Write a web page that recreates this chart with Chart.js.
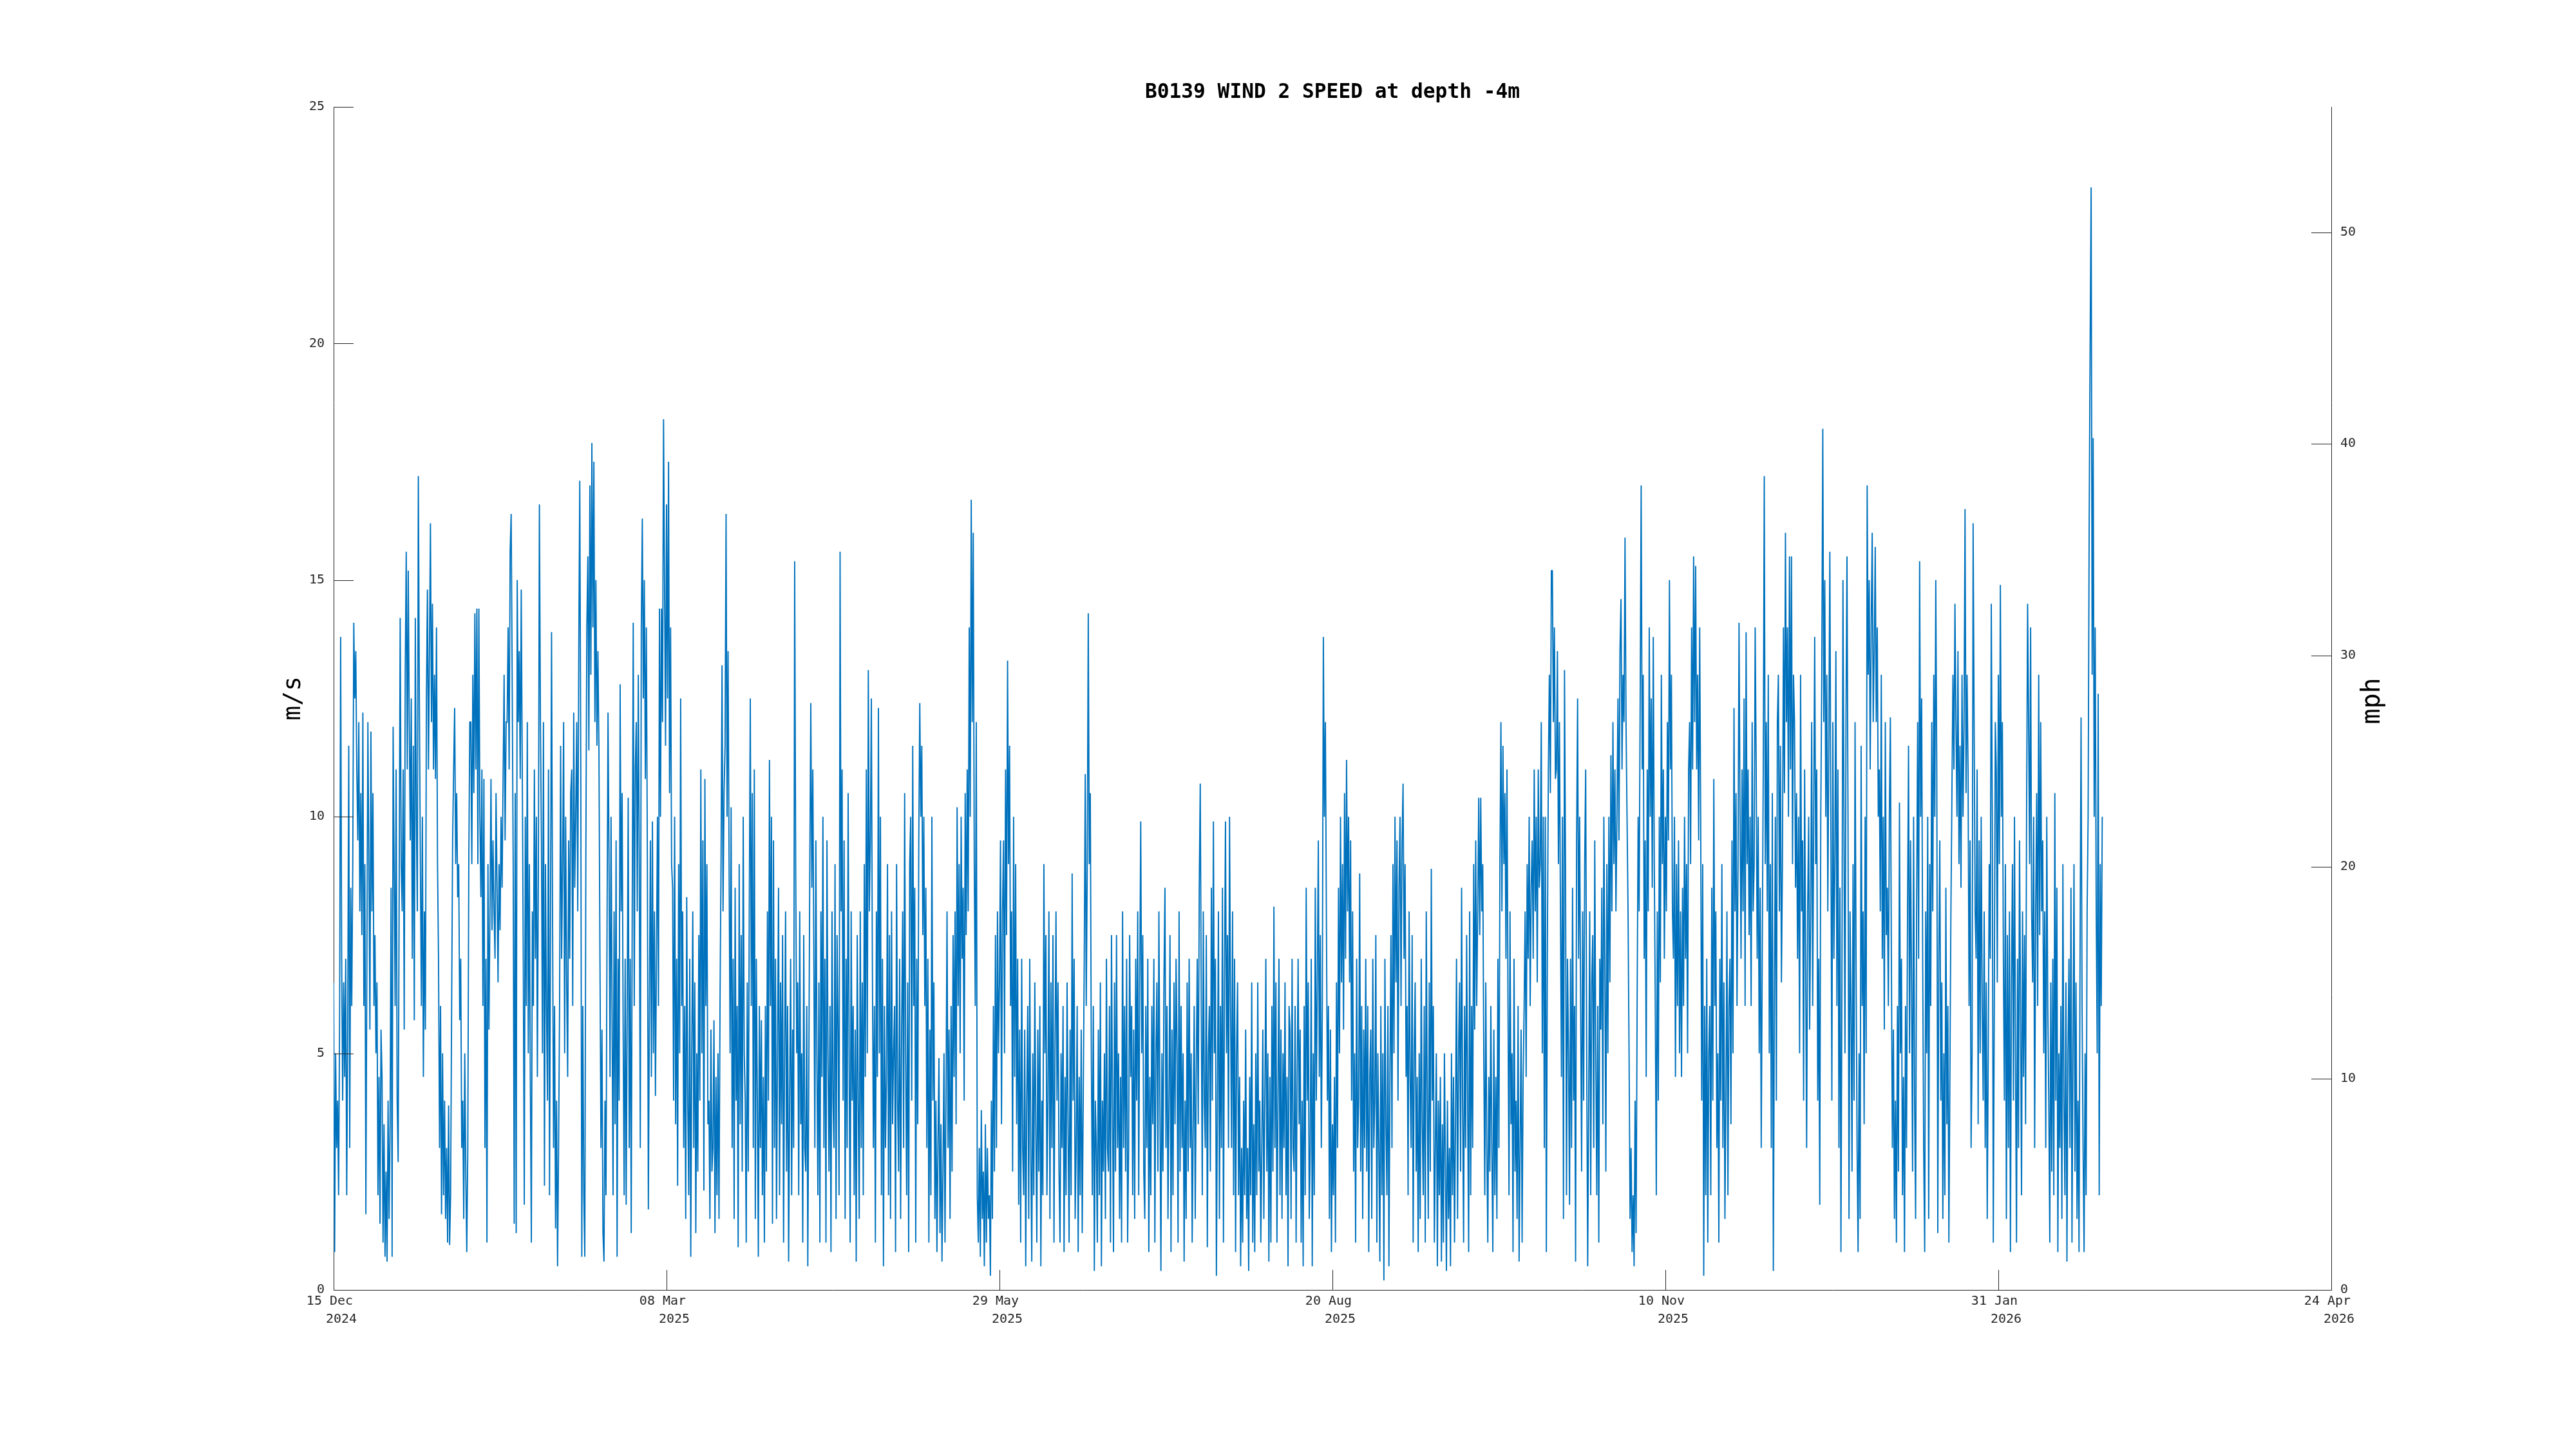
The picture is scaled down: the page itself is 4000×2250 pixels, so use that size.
<!DOCTYPE html>
<html>
<head>
<meta charset="utf-8">
<script src="https://cdn.jsdelivr.net/npm/chart.js@4.4.1/dist/chart.umd.min.js"></script>
<style>
html,body{margin:0;padding:0;background:#ffffff;}
canvas{display:block;}
</style>
</head>
<body>
<canvas id="c" width="4000" height="2250"></canvas>
<script>
// ---------- text ----------
const chartTitle = 'B0139 WIND 2 SPEED at depth -4m';
const leftAxisLabel = 'm/s';
const rightAxisLabel = 'mph';

// ---------- axes ----------
// x axis in days since 15 Dec 2024
const xTickDays = [0, 82.5, 165, 247.5, 330, 412.5, 495];
const xTickLabels = [
  ['15 Dec ', '  2024'],
  ['08 Mar ', '  2025'],
  ['29 May ', '  2025'],
  ['20 Aug ', '  2025'],
  ['10 Nov ', '  2025'],
  ['31 Jan ', '  2026'],
  ['24 Apr ', '  2026']
];
const msTicks = [0, 5, 10, 15, 20, 25];
const mphTicks = [0, 10, 20, 30, 40, 50];
const mphPerMs = 2.23694;

// ---------- data: wind speed (m/s), 4 readings per day ----------
const samplesPerDay = 4;
const monthStartDay = [0, 17, 48, 76, 107, 137, 168, 198, 229, 260, 290, 321, 351, 382, 413];

const dec2024 = [
  6.5,0.8,5,3, 4,2,6,13.8, 7,4,6.5,4.5, 7,2,5.5,11.5, 3,8.5,6,9,
  14.1,12.5,13.5,11, 9.5,12,8,10.5, 7.5,12.2,6,9, 1.6,7,12,9, 5.5,11.8,8,10.5,
  6,7.5,5,6.5, 2,4.5,1.4,5.5, 4.5,1,3.5,0.7, 2.5,0.6,4,1.5, 3.5,8.5,0.7,11.9,
  9,6,11,4, 2.7,8.5,14.2,9
];
const jan2025 = [
  8,11,5.5,13, 15.6,11,15.2,12, 9.5,12.5,7,11.5, 5.7,14.2,10,8, 17.2,12.5,9,6,
  10,4.5,8,5.5, 12.5,14.8,11,13.5, 16.2,12,14.5,11, 13,10.8,14,9, 7,3,6,1.6,
  5,2,4,1.5, 3,1,3.9,0.95, 2,6,9.5,11, 12.3,9,10.5,8.3, 9,5.7,7,3,
  4,1.5,5,2.5, 0.8,3,9,12, 12,9,13,10.5, 14.3,11,14.4,9, 14.4,10,8.3,11,
  6,10.8,3,7, 1,9,5.5,8, 10.8,7.6,9.5,8, 7,10.5,8.5,6.5, 9,7.6,10,8.5,
  10.8,13,9.5,12, 12,14,11,15.6, 16.4,13,9,1.4, 10.5,1.2,15,12, 13.5,10.8,14.8,11,
  7,1.8,10,6
];
const feb2025 = [
  12,5,9,4.5, 1,8,6,11, 7,10,4.5,9, 16.6,12,9.5,5, 12,2.2,9,6,
  4,11,2,8, 13.9,8,3,6, 1.3,4,0.5,3, 6,11.5,7,9, 12,5,10,6.5,
  4.5,9.5,7,10.5, 11,6,12.2,8.5, 10,12,8,13.5, 17.1,11,0.7,6, 2,0.7,9,14,
  15.5,11.4,17,13, 17.9,14,17.5,12, 15,11.5,13.5,11.4, 7,3,5.5,1.2, 0.6,4,2,7.5,
  12.2,9,4.5,10, 6,2,8,3.5, 9.5,0.7,7,4, 12.8,8,10.5,5.5, 2,7,1.8,6,
  10.4,3,7,1.2, 8,14.1,6,11, 12,8,13,9
];
const mar2025 = [
  3,14,16.3,12.5, 15,10.8,14,9, 1.7,6,9.5,4.5, 9.9,5,8,4.1, 7,10,6,14.4,
  10,14.4,12,18.4, 15,11.5,16.6,12.5, 17.5,10.5,14,9, 8.5,4,10,3.5, 7,2.2,9,5,
  12.5,6,8,3, 6,1.5,8.3,4, 2,7,0.7,5, 8,3,6.5,1.2, 5,2.5,7.5,4,
  11,5,9.5,2.1, 10.8,6,9,3.5, 4,1.5,5.5,2.5, 3,5.7,1.2,4.5, 2,5,1.5,6,
  9,13.2,8,10.5, 11.5,16.4,10,13.5, 9,5,10.2,3, 7,1.5,8.5,4, 6,0.9,9,3.5,
  7.5,2.5,10,5, 4,1,6.5,2.5, 8,12.5,6,10.5, 3,11,1.5,7, 4,0.7,6,3,
  5.7,2,4.5,1
];
const apr2025 = [
  6,2.5,8,4, 11.2,6,10,1.4, 9.5,3,7,1.5, 5,8.5,2,6.5, 3.5,7.5,1,5,
  8,2.5,6,0.6, 4,7,2,5.5, 3,15.4,9,5, 6.5,2,8,3.5, 5,1,7.5,3,
  2.5,6,0.5,4.5, 9,12.4,8.5,11, 7,3,9.5,5, 2,6.5,1,8, 4.5,10,3,7,
  1,9.5,5,2.5, 6,0.8,8,4, 3,9,1.5,7.5, 5.5,2,15.6,8, 11,4,9.5,1.5,
  7,3,10.5,5, 1,8,4,6, 2,5.5,0.6,7.5, 4,1.5,8,3, 6.5,2,9,4.5,
  11,5,13.1,8, 9.5,12.5,7,3, 6,1,8,4.5, 12.3,5,10,2, 7,0.5,6,3
];
const may2025 = [
  4.5,9,2,7.5, 1.5,8,3.5,5, 6,0.8,9,4, 2.5,7,1.5,5.5, 8,3,10.5,5,
  2,6.5,0.8,9, 10,4,11.5,6, 8.5,1,7,3.5, 9.5,12.4,10,11.5, 7.5,10,6,8.5,
  3,7,1,5.5, 2,10,4,6.5, 1.5,4,0.8,3, 4.9,1.2,3.5,0.6, 2.5,5,1,4,
  8,3,5.5,1.5, 6,2.5,7.5,4.5, 8,3.5,10.2,6, 9,5,10,7, 8.5,4,10.5,7.5,
  11,8,14,10, 16.7,12,16,9, 6,12,2,1, 3,0.7,3.8,1.5, 2.5,0.5,3.5,1,
  3,1.5,2,0.3, 4,1.5,6,2.5, 7.5,3,8,5, 6.5,9.5,3.5,8, 9.5,5,11,7.5,
  13.3,9,11.5,6
];
const jun2025 = [
  8,2.5,10,4.5, 9,3.5,7,1.8, 5.5,1,7,3, 2,5.5,0.5,4, 6,1.5,7,3,
  0.6,5,2,6.5, 3.5,1,5.5,2.5, 6,0.5,4,2, 9,5,7.5,2, 4,8,1.5,6.5,
  3,7.5,1,5, 8,4,6.5,2.5, 1,5,3,6, 0.8,4.5,2,6.5, 3.5,1,5.5,2,
  8.8,4,7,1.5, 3,6,0.8,4.5, 2,5.5,1.2,4, 7,10.9,6,9, 14.3,9,10.5,5,
  2,6,0.4,4, 3,1,5.5,2, 6.5,0.5,4,2.5, 5,1.5,7,3, 2.5,6,1,7.5,
  4,0.8,6.5,2.5, 7.5,3,5,1.5, 4.5,1,8,3, 6,2.5,7,1, 3,7.5,4.5,6
];
const jul2025 = [
  2,5.5,1.5,7, 4,8,2,6.5, 9.9,5,7.5,2.5, 1.5,6,3,7, 0.8,4.5,2,6,
  3.5,7,1,5, 6.5,2.5,8,4, 0.4,5,2.5,6.5, 8.5,3,6,1.5, 4,7.5,0.8,5.5,
  2,6.5,3.5,7, 5,1,8,2.5, 6,3,5,0.6, 4,1.5,6.5,2.5, 7,3,5,1,
  3.5,6,1.5,4.5, 7,3.5,8.5,10.7, 6,2,8,4, 3,7.5,0.9,5, 6,2.5,8.5,4,
  9.9,5,7,0.3, 4,8,1.5,6, 3,8.5,1,6.5, 9.9,5,7.5,3, 10,6,3,8,
  2,7,0.8,5, 6.5,2,4.5,0.5, 3,1,4,2, 5.5,1.5,3,0.4, 4.5,2,6.5,1,
  3.5,0.8,5,2
];
const aug2025 = [
  6.5,2.5,4,1, 3,5.5,1.5,4, 7,2.5,5,0.6, 4.5,1,6,2.5, 8.1,3,6.5,1,
  4,7,2,5.5, 1.5,5,3,6.5, 2,4.5,0.5,6, 5.5,1.5,7,3, 2.5,6,1,4.5,
  7,3.5,5.5,1, 4,0.5,6,2, 8.5,4,6.5,1.5, 3,7,0.5,5, 2,8.5,4,6.5,
  9.5,4.5,7.5,3, 6,13.8,10,12, 8,4,6,1.5, 5.5,0.8,3.5,2, 4.5,1,6.5,3,
  8.5,5,10,6.5, 9,5.5,10.5,7, 11.2,8,10,6.5, 9.5,4,8,2.5, 5,1,7,3,
  4,8.8,2.5,6, 1.5,5.5,3,7, 2.5,6,0.8,4.5, 5.5,1.5,7,3, 4,7.5,1,5,
  3,0.6,6,2
];
const sep2025 = [
  5,0.2,7,3.5, 2,6,0.5,4.5, 7.5,3,9,5, 10,6.5,9.5,4, 8.5,10,6,9.5,
  10.7,7,9,4.5, 6,2,8,4.5, 3,7.5,1,5, 6.5,2.5,4.5,0.8, 5,1.5,7,3.5,
  2,6,1,8, 4,1.5,6.5,2.5, 8.9,4,6,1, 3,5,0.5,4, 2,4.5,0.6,3.5,
  1,5,2.5,0.4, 4,1.5,3,0.5, 5,2,4.5,1, 3.5,7,1.5,5, 6.5,2.5,8.5,4,
  1,6,3,7.5, 4,0.8,8,2, 6,3,9,5.5, 9.5,6,8,10.4, 7.5,10.4,8,9,
  5,2,6.5,3, 1,4.5,2.5,6, 3,0.8,5.5,2, 4.5,1.5,7,3, 9,12,8,11.5
];
const oct2025 = [
  9,10.5,7,11, 6,2,8,3.5, 5,0.8,7,2.5, 4,1.5,6,0.6, 3,5.5,1,4.5,
  6,8,4.5,9, 7,10,6,8.5, 9.5,7,11,8, 10,6.5,11,8.5, 9,12,5,10,
  3,10,0.8,7, 11,13,10.5,15.2, 15.2,12,14,10.8, 11,13.5,9,12, 8,4.5,10,1.5,
  13.1,9,2,7, 5,1.8,7,3, 8.5,4,6,0.6, 9.5,12.5,7,10, 6,2.5,8,4,
  9,11,5,0.5, 4,8,2,6.5, 7.5,3,9.5,5, 2,6,1,7, 5.5,8.5,3.5,10,
  7,2.5,9,5, 10,6.5,11.3,8, 12,9,11,8, 10,12.5,9.5,13.5, 14.6,11,13,12,
  15.9,12,10,8
];
const nov2025 = [
  5,1.5,3,0.8, 2,0.5,4,1.2, 6,10,8,12.5, 17,11,13,7, 9.5,4.5,11,8,
  14,10,12.5,8.5, 13.8,9,6,2, 8,4,10,6.5, 13,9,11,7, 10,8,12,9.5,
  15,11,13,8, 7,10,4.5,9, 6,9.5,5,8, 4.5,8.5,6,10, 7,9,5,11,
  12,9,14,11, 15.5,12,15.3,11, 13,9.5,14,10, 4,9,0.3,6, 2,7,1,5,
  6,2,8.5,4, 10.8,6,8,3, 5,1,7,4, 9,3,6.5,1.5, 4,8,2,6,
  7,3.5,9.5,5, 12.3,8,10.5,6, 9,14.1,10,7, 11,8,12.5,6, 13.9,9,11,7.5
];
const dec2025 = [
  10,6,12,8, 9,14,11,7, 10,5,8.5,3, 7,11,17.2,9, 12,8,13,5,
  9,3,10.5,0.4, 6,10,4,12, 13,8,11.5,6.5, 9,14,10.5,16, 12,14,10,15.5,
  11,15.5,9,13, 12,8.5,10.5,7, 10,5,13,8, 9.5,4,11,7, 3,8,10,5.5,
  8,12,6,10, 13.8,9,11,4, 7,1.8,10,13, 18.2,12,15,10, 13,8,11.5,15.6,
  10,4,12,7, 9,13.5,6,11, 3,8.5,0.8,6.5, 15,10,5,12, 15.5,10,1.5,8,
  6,2.5,9,4, 12,7,3,0.8, 5,1.5,11.5,6, 8,3.5,10,5, 17,13,15,11,
  14,16,12,13.5
];
const jan2026 = [
  15.7,12,14,10, 11,8,13,7, 10,5.5,12,7.5, 8.5,6,10,12.1, 7,3,5.5,1.5,
  4,1,6,2.5, 10.3,5,7,2, 4.5,0.8,6,3, 8,11.5,5,9.5, 6.5,2.5,10,4,
  1.5,8,12,7, 15.4,10,12.5,7, 3,0.8,8,5, 10,1.5,9,6, 12,8,13,10,
  15,11,1.2,7, 9.5,4,6.5,1.5, 5,2,8.5,3.5, 6,1,4.5,8, 10.5,13,11,14.5,
  12,10,13.5,9, 11.5,8.5,13,10, 12,16.5,10.5,13, 11,6,9.5,3, 5,16.2,12,8,
  7,11,3.5,9.5, 5,10,6,4, 8,3,6.5,1.5, 5,9,7,14.5, 10,1,6,12,
  11,6.5,13,9
];
const feb2026 = [
  14.9,10,12,7, 4,9,1.5,7.5, 3,8,0.8,6.5, 9,4,10,5, 1,7,3,9.5,
  6,2,8,4.5, 7.5,3.5,10,14.5, 12,9,14,8, 6.5,10,3,8, 10.5,6,13,7.5,
  12,8,9.5,5, 8,3,10,6, 4,1,6.5,2.5, 7,2,10.5,4, 8.5,0.8,5,3,
  6,1.5,9,4, 2,6.5,0.6,5, 7,3,8.5,1, 5,9,2.5,6.5, 1.5,4,0.8,7,
  12.1,6,3,0.8, 5,2,8,10, 16,20,23.3,13, 18,10,14,8, 5,12.6,2,9,
  6,10
];

const monthlySeries = [dec2024, jan2025, feb2025, mar2025, apr2025, may2025, jun2025,
  jul2025, aug2025, sep2025, oct2025, nov2025, dec2025, jan2026, feb2026];

const points = [];
monthlySeries.forEach((vals, m) => {
  vals.forEach((v, i) => points.push({ x: monthStartDay[m] + i / samplesPerDay, y: v }));
});

// ---------- styling ----------
const fontFamily = "'DejaVu Sans Mono', monospace";
const axisColor = '#262626';
const lineColor = '#0072BD';
const tickLen = 31;
const titleWidthPx = 582;

const innerTicksAndLabels = {
  id: 'innerTicksAndLabels',
  afterDraw(chart) {
    const { ctx, chartArea: a, scales } = chart;
    ctx.save();
    ctx.strokeStyle = axisColor;
    ctx.lineWidth = 1;
    ctx.beginPath();
    scales.y.ticks.forEach(t => {
      const py = Math.round(scales.y.getPixelForValue(t.value)) + 0.5;
      ctx.moveTo(a.left, py); ctx.lineTo(a.left + tickLen, py);
    });
    scales.y2.ticks.forEach(t => {
      const py = Math.round(scales.y2.getPixelForValue(t.value)) + 0.5;
      ctx.moveTo(a.right, py); ctx.lineTo(a.right - tickLen, py);
    });
    scales.x.ticks.forEach(t => {
      const px = Math.round(scales.x.getPixelForValue(t.value)) + 0.5;
      ctx.moveTo(px, a.bottom); ctx.lineTo(px, a.bottom - tickLen);
    });
    ctx.stroke();

    // title centred over the plot area
    ctx.fillStyle = '#000000';
    ctx.textAlign = 'center';
    ctx.textBaseline = 'middle';
    ctx.font = `bold 100px ${fontFamily}`;
    const w100 = ctx.measureText(chartTitle).width;
    const titleSize = Math.min(40, 100 * titleWidthPx / w100);
    ctx.font = `bold ${titleSize.toFixed(1)}px ${fontFamily}`;
    ctx.fillText(chartTitle, (a.left + a.right) / 2, a.top - 22);

    const cy = (a.top + a.bottom) / 2;
    ctx.font = `38px ${fontFamily}`;
    ctx.save();
    ctx.translate(a.left - 62, cy);
    ctx.rotate(-Math.PI / 2);
    ctx.fillText(leftAxisLabel, 0, 0);
    ctx.restore();
    ctx.font = `40px ${fontFamily}`;
    ctx.save();
    ctx.translate(a.right + 65, cy + 4);
    ctx.rotate(-Math.PI / 2);
    ctx.fillText(rightAxisLabel, 0, 0);
    ctx.restore();
    ctx.restore();
  }
};

const tickFont = { family: fontFamily, size: 20, lineHeight: 1.385 };

new Chart(document.getElementById('c'), {
  type: 'line',
  data: {
    datasets: [{
      data: points,
      parsing: false,
      borderColor: lineColor,
      borderWidth: 1.9,
      pointRadius: 0,
      fill: false,
      tension: 0,
      yAxisID: 'y'
    }]
  },
  options: {
    responsive: false,
    devicePixelRatio: 1,
    animation: false,
    events: [],
    layout: { padding: { top: 166, left: 0, right: 0, bottom: 0 } },
    plugins: {
      legend: { display: false },
      tooltip: { enabled: false },
      title: { display: false }
    },
    scales: {
      x: {
        type: 'linear',
        min: xTickDays[0],
        max: xTickDays[xTickDays.length - 1],
        afterBuildTicks: s => { s.ticks = xTickDays.map(v => ({ value: v })); },
        afterFit: s => { s.height = 247; },
        grid: { display: false },
        border: { display: true, color: axisColor, width: 1 },
        ticks: {
          autoSkip: false, maxRotation: 0, minRotation: 0,
          padding: -4, color: axisColor, font: tickFont,
          callback: (v, i) => xTickLabels[i]
        }
      },
      y: {
        type: 'linear',
        position: 'left',
        min: msTicks[0],
        max: msTicks[msTicks.length - 1],
        afterBuildTicks: s => { s.ticks = msTicks.map(v => ({ value: v })); },
        afterFit: s => { s.width = 518; },
        grid: { display: false },
        border: { display: true, color: axisColor, width: 1 },
        ticks: { padding: 6, color: axisColor, font: { family: fontFamily, size: 20 },
          callback: v => String(v) }
      },
      y2: {
        type: 'linear',
        position: 'right',
        min: 0,
        max: msTicks[msTicks.length - 1] * mphPerMs,
        afterBuildTicks: s => { s.ticks = mphTicks.map(v => ({ value: v })); },
        afterFit: s => { s.width = 380; },
        grid: { display: false },
        border: { display: true, color: axisColor, width: 1 },
        ticks: { padding: 6, color: axisColor, font: { family: fontFamily, size: 20 },
          callback: v => String(v) }
      }
    }
  },
  plugins: [innerTicksAndLabels]
});
</script>
</body>
</html>
